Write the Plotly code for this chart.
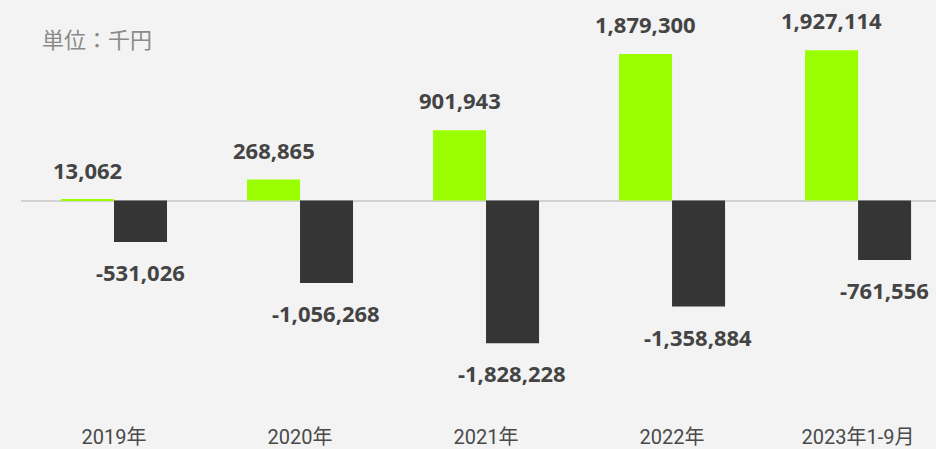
import plotly.graph_objects as go

# Annual figures, unit: thousand yen
categories = ["2019年", "2020年", "2021年", "2022年", "2023年1-9月"]
positive_values = [13062, 268865, 901943, 1879300, 1927114]
negative_values = [-531026, -1056268, -1828228, -1358884, -761556]

GREEN = "#99ff00"
DARK = "#353535"
LABEL_COLOR = "#444444"

W, H = 936, 449
ml, mr, mt, mb = 21, 0, 20, 29
pw, ph = W - ml - mr, H - mt - mb

fig = go.Figure()
fig.add_trace(go.Bar(x=categories, y=positive_values, marker_color=GREEN,
                     marker_line_width=0, offsetgroup="a", hoverinfo="skip"))
fig.add_trace(go.Bar(x=categories, y=negative_values, marker_color=DARK,
                     marker_line_width=0, offsetgroup="b", hoverinfo="skip"))

# value labels above / below each bar
bar_shift = 0.142  # half bar width in category units
label_font = dict(size=22, color=LABEL_COLOR, family="Noto Sans, Roboto, sans-serif", weight="bold")
annotations = []
for i, (pv, nv) in enumerate(zip(positive_values, negative_values)):
    annotations.append(dict(x=i - bar_shift, y=pv, xref="x", yref="y",
                            text=f"{pv:,}", showarrow=False, yshift=30, font=label_font))
    annotations.append(dict(x=i + bar_shift, y=nv, xref="x", yref="y",
                            text=f"{nv:,}", showarrow=False, yshift=-30, font=label_font))

# unit note in the upper left corner
annotations.append(dict(x=(40 - ml) / pw, y=1 - (38 - mt) / ph, xref="paper", yref="paper",
                        text="単位：千円", showarrow=False, xanchor="left", yanchor="middle",
                        font=dict(size=22, color="#8a8a8a", family="Noto Sans CJK JP")))

fig.update_layout(
    width=W, height=H,
    margin=dict(l=ml, r=mr, t=mt, b=mb, pad=0),
    paper_bgcolor="#f3f3f3", plot_bgcolor="#f3f3f3",
    barmode="group", bargap=0.43, bargroupgap=0,
    showlegend=False,
    annotations=annotations,
    font=dict(family="Noto Sans CJK JP", color="#444444"),
)
fig.update_xaxes(type="category", range=[-0.5, 4.419], showgrid=False, showline=False,
                 ticks="", tickfont=dict(size=20, color="#4a4a4a", family="Roboto, Noto Sans CJK JP"),
                 ticklabelstandoff=5)
fig.update_yaxes(range=[-2787000, 2315000], showgrid=False, showticklabels=False,
                 zeroline=True, zerolinecolor="#d2d2d2", zerolinewidth=2)

fig.write_html("out.html")
